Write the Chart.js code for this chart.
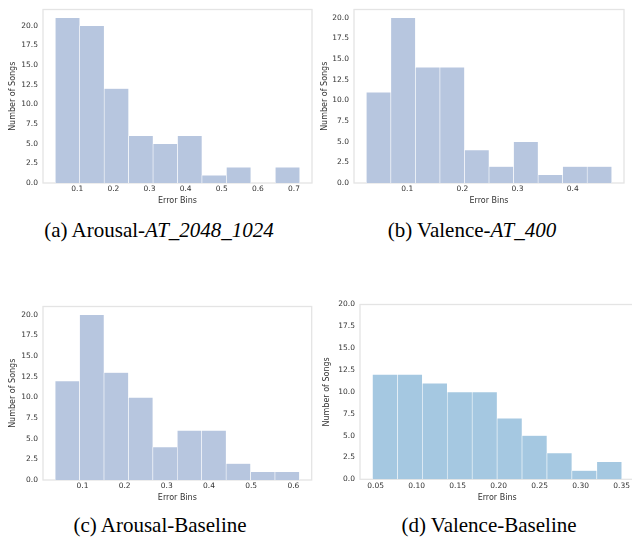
<!DOCTYPE html>
<html>
<head>
<meta charset="utf-8">
<script src="https://cdn.jsdelivr.net/npm/chart.js@4.4.1/dist/chart.umd.min.js"></script>
<style>
  html, body { margin: 0; padding: 0; background: #fff; overflow: hidden; width: 632px; height: 539px; }
  canvas { position: absolute; }
  .cap {
    position: absolute; width: 300px; text-align: center; white-space: nowrap;
    font-family: "Liberation Serif", "Times New Roman", serif; font-size: 21px; line-height: 23px; color: #000;
  }
</style>
</head>
<body>
<canvas id="histA" width="316" height="206" style="left:0;top:0"></canvas>
<canvas id="histB" width="316" height="206" style="left:316px;top:0"></canvas>
<canvas id="histC" width="316" height="206" style="left:0;top:297px"></canvas>
<canvas id="histD" width="324" height="208" style="left:316px;top:295px"></canvas>

<div class="cap" style="left:9px;top:219px">(a) Arousal-<i>AT_2048_1024</i></div>
<div class="cap" style="left:322px;top:219px">(b) Valence-<i>AT_400</i></div>
<div class="cap" style="left:10px;top:514px">(c) Arousal-Baseline</div>
<div class="cap" style="left:339px;top:514px">(d) Valence-Baseline</div>

<script>
// bin centres (error) and song counts
const arousalAtBins = [0.0729, 0.1406, 0.2083, 0.2760, 0.3437, 0.4114, 0.4791, 0.5468, 0.6145, 0.6822];
const arousalAtCounts = [21, 20, 12, 6, 5, 6, 1, 2, 0, 2];

const valenceAtBins = [0.0480, 0.0925, 0.1370, 0.1815, 0.2260, 0.2705, 0.3150, 0.3595, 0.4040, 0.4485];
const valenceAtCounts = [11, 20, 14, 14, 4, 2, 5, 1, 2, 2];

const arousalBaseBins = [0.0643, 0.1222, 0.1801, 0.2380, 0.2959, 0.3538, 0.4117, 0.4696, 0.5275, 0.5854];
const arousalBaseCounts = [12, 20, 13, 10, 4, 6, 6, 2, 1, 1];

const valenceBaseBins = [0.0614, 0.0918, 0.1222, 0.1526, 0.1830, 0.2134, 0.2438, 0.2742, 0.3046, 0.3350];
const valenceBaseCounts = [12, 12, 11, 10, 10, 7, 5, 3, 1, 2];

const xLabel = "Error Bins";
const yLabel = "Number of Songs";

const tickColor = "#333333";
const sans = "'DejaVu Sans', sans-serif";

// light grey box round the plot area
const frame = {
  id: "frame",
  beforeDatasetsDraw(chart) {
    const { ctx, chartArea: a } = chart;
    ctx.save();
    ctx.strokeStyle = "#e4e4e4";
    ctx.lineWidth = 1.3;
    ctx.strokeRect(a.left, a.top, a.right - a.left, a.bottom - a.top);
    ctx.restore();
  },
};

function histogram(id, bins, counts, g) {
  const ctx = document.getElementById(id).getContext("2d");
  return new Chart(ctx, {
    type: "bar",
    data: {
      datasets: [{
        data: bins.map((x, i) => ({ x: x, y: counts[i] })),
        backgroundColor: g.color,
        borderColor: "#ffffff",
        borderWidth: 0.6,
        barPercentage: 1,
        categoryPercentage: 1,
      }],
    },
    options: {
      responsive: false,
      animation: false,
      devicePixelRatio: 1,
      layout: { padding: { left: 0, top: g.top, right: g.right, bottom: 0 } },
      plugins: { legend: { display: false }, tooltip: { enabled: false } },
      scales: {
        x: {
          type: "linear",
          offset: false,
          min: g.xMin,
          max: g.xMax,
          grid: { display: false, drawTicks: false },
          border: { display: false },
          ticks: {
            stepSize: g.xStep,
            includeBounds: false,
            autoSkip: false,
            maxRotation: 0,
            padding: 2,
            color: tickColor,
            font: { family: sans, size: 7.5 },
            callback: (v) => Number(v).toFixed(g.xDigits),
          },
          title: {
            display: true, text: xLabel, color: tickColor,
            font: { family: sans, size: 8 }, padding: { top: 0, bottom: 0 },
          },
          afterFit: (s) => { s.height = g.xAxisH; },
        },
        y: {
          min: 0,
          max: g.yMax,
          grid: { display: false, drawTicks: false },
          border: { display: false },
          ticks: {
            stepSize: 2.5,
            includeBounds: false,
            padding: 5,
            color: tickColor,
            font: { family: sans, size: 7.5 },
            callback: (v) => Number(v).toFixed(1),
          },
          title: {
            display: true, text: yLabel, color: tickColor,
            font: { family: sans, size: 8 }, padding: { top: g.yTitlePad, bottom: 0 },
          },
          afterFit: (s) => { s.width = g.yAxisW; },
        },
      },
    },
    plugins: [frame],
  });
}

histogram("histA", arousalAtBins, arousalAtCounts, {
  color: "#b7c6df", top: 6, right: 4, yAxisW: 43, xAxisH: 23, yTitlePad: 8,
  xMin: 0.005, xMax: 0.750, xStep: 0.1, xDigits: 1, yMax: 22.05,
});
histogram("histB", valenceAtBins, valenceAtCounts, {
  color: "#b7c6df", top: 6, right: 8, yAxisW: 38, xAxisH: 23, yTitlePad: 4,
  xMin: 0.0034, xMax: 0.493, xStep: 0.1, xDigits: 1, yMax: 21,
});
histogram("histC", arousalBaseBins, arousalBaseCounts, {
  color: "#b7c6df", top: 7.3, right: 4.3, yAxisW: 43, xAxisH: 23, yTitlePad: 8,
  xMin: 0.0065, xMax: 0.6435, xStep: 0.1, xDigits: 1, yMax: 21,
});
histogram("histD", valenceBaseBins, valenceBaseCounts, {
  color: "#a5c8e1", top: 7.3, right: 5.7, yAxisW: 44, xAxisH: 23.7, yTitlePad: 6,
  xMin: 0.031, xMax: 0.3655, xStep: 0.05, xDigits: 2, yMax: 20,
});
</script>
</body>
</html>
